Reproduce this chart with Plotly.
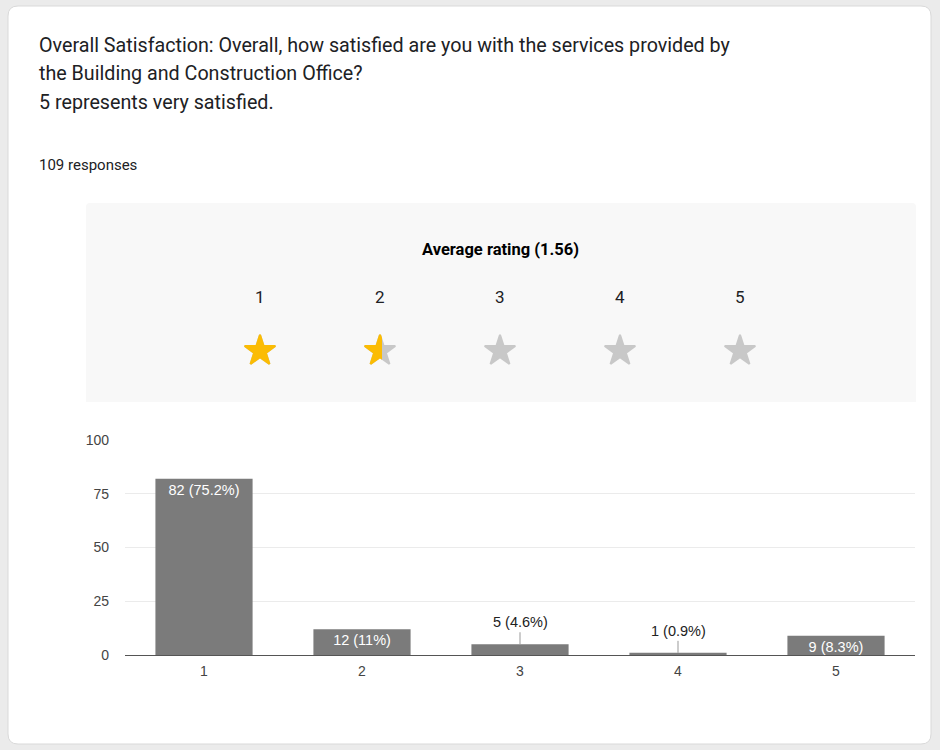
import plotly.graph_objects as go

# survey data
ratings = [1, 2, 3, 4, 5]
counts = [82, 12, 5, 1, 9]
average = 1.56
question = ["Overall Satisfaction: Overall, how satisfied are you with the services provided by",
            "the Building and Construction Office?",
            "5 represents very satisfied."]
y_ticks = [0, 25, 50, 75, 100]

W, H = 940, 750
total = sum(counts)


def px(x):
    return x / W


def py(y):
    return 1 - y / H


def pct(n):
    p = round(100 * n / total, 1)
    s = f"{p:.1f}".rstrip("0").rstrip(".")
    return f"{n} ({s}%)"


labels = [pct(c) for c in counts]
inside = [c >= 9 for c in counts]
chart_font = "Liberation Sans, Arial"

fig = go.Figure()

# bars
fig.add_trace(go.Bar(
    x=ratings, y=counts,
    text=[l if i else "" for l, i in zip(labels, inside)],
    textposition="inside", insidetextanchor="end", constraintext="none",
    textfont=dict(color="white", size=14.5, family=chart_font),
    marker=dict(color="#7b7b7b", line=dict(width=0)),
    width=0.615, cliponaxis=False, hoverinfo="skip",
))

# small bars get an outside label with a leader line
for r, c, l, i in zip(ratings, counts, labels, inside):
    if not i:
        fig.add_annotation(x=r, y=c, xref="x", yref="y", text=l, showarrow=True,
                           arrowhead=0, arrowwidth=1, arrowcolor="#999999",
                           ax=0, ay=-12, yanchor="bottom",
                           font=dict(size=14.5, color="#222222", family=chart_font))

# star rating: grey stars, full gold stars, partial gold star clipped by its own axis
star_size = 23
grey, gold = "#c8c8c8", "#fbbc04"
full = int(average)
frac = average - full
fig.add_trace(go.Scatter(
    x=ratings, y=[0] * len(ratings), xaxis="x2", yaxis="y2", mode="markers",
    marker=dict(symbol="star", size=star_size, color=grey, line=dict(width=2, color=grey)),
    hoverinfo="skip"))
fig.add_trace(go.Scatter(
    x=ratings[:full], y=[0] * full, xaxis="x2", yaxis="y2", mode="markers",
    marker=dict(symbol="star", size=star_size, color=gold, line=dict(width=2, color=gold)),
    hoverinfo="skip"))
fig.add_trace(go.Scatter(
    x=[ratings[full]], y=[0], xaxis="x3", yaxis="y3", mode="markers", cliponaxis=True,
    marker=dict(symbol="star", size=star_size, color=gold, line=dict(width=2, color=gold)),
    hoverinfo="skip"))

# star axes: rating k sits at 260 + 120*(k-1) px
star_dom = [px(200), px(800)]
half_left = 380 - 16
fig.update_layout(
    xaxis2=dict(domain=star_dom, range=[0.5, 5.5], visible=False, fixedrange=True),
    yaxis2=dict(domain=[py(376), py(326)], range=[-1, 1], visible=False, anchor="x2"),
    xaxis3=dict(domain=[px(half_left), px(half_left + 32 * frac)],
                range=[2 - 16 / 120, 2 - 16 / 120 + 32 * frac / 120], visible=False),
    yaxis3=dict(domain=[py(376), py(326)], range=[-1, 1], visible=False, anchor="x3"),
)

for r in ratings:
    fig.add_annotation(x=r, y=py(297), xref="x2", yref="paper", text=str(r), showarrow=False,
                       yanchor="middle",
                       font=dict(size=17, color="#202124", family="Roboto"))

fig.add_annotation(x=px(500), y=py(250), xref="paper", yref="paper",
                   text="<b>Average rating (%.2f)</b>" % average, showarrow=False,
                   xanchor="center", yanchor="middle",
                   font=dict(size=16.5, color="#000000", family="Roboto"))

# question text and response count
for i, line in enumerate(question):
    fig.add_annotation(x=px(37), y=py(45 + 28.5 * i), xref="paper", yref="paper", text=line,
                       showarrow=False, xanchor="left", yanchor="middle",
                       font=dict(size=19.7, color="#202124", family="Roboto"))
fig.add_annotation(x=px(37), y=py(165), xref="paper", yref="paper", text=f"{total} responses",
                   showarrow=False, xanchor="left", yanchor="middle",
                   font=dict(size=15, color="#202124", family="Roboto"))

# card and panel backgrounds
r = 10
x0, y0, x1, y1 = px(8), py(6), px(931), py(744)
rx, ry = px(r), r / H
card = (f"M {x0+rx},{y0} L {x1-rx},{y0} Q {x1},{y0} {x1},{y0-ry} L {x1},{y1+ry} "
        f"Q {x1},{y1} {x1-rx},{y1} L {x0+rx},{y1} Q {x0},{y1} {x0},{y1+ry} "
        f"L {x0},{y0-ry} Q {x0},{y0} {x0+rx},{y0} Z")
fig.add_shape(type="path", path=card, xref="paper", yref="paper", layer="below",
              fillcolor="white", line=dict(color="#d9d9d9", width=1))
r2 = 4
p0, q0, p1, q1 = px(86), py(203), px(916), py(402)
rx2, ry2 = px(r2), r2 / H
panel = (f"M {p0+rx2},{q0} L {p1-rx2},{q0} Q {p1},{q0} {p1},{q0-ry2} L {p1},{q1} "
         f"L {p0},{q1} L {p0},{q0-ry2} Q {p0},{q0} {p0+rx2},{q0} Z")
fig.add_shape(type="path", path=panel, xref="paper", yref="paper", layer="below",
              fillcolor="#f8f8f8", line=dict(width=0))

tick_font = dict(size=14, color="#444444", family=chart_font)
fig.update_layout(
    width=W, height=H, margin=dict(l=0, r=0, t=0, b=0, pad=0, autoexpand=False),
    paper_bgcolor="#ebebeb", plot_bgcolor="rgba(0,0,0,0)",
    showlegend=False, bargap=0.385,
    xaxis=dict(domain=[px(125), px(915)], range=[0.5, 5.5], tickvals=ratings,
               ticktext=[str(r) for r in ratings], showgrid=False, zeroline=False,
               showline=True, linecolor="#555555", linewidth=1, ticks="",
               ticklabelstandoff=3, tickfont=tick_font,
               fixedrange=True, automargin=False),
    yaxis=dict(domain=[py(655), py(440)], range=[0, 100], tickvals=y_ticks,
               showgrid=True, gridcolor="#ebebeb", gridwidth=1, zeroline=False,
               showline=False, ticks="", ticklabelstandoff=15, tickfont=tick_font,
               fixedrange=True, automargin=False),
    font=dict(family="Roboto"),
)

# page without the default body margin so the card sits flush in the window
fig.write_html("out.html", config={"displayModeBar": False},
               post_script="document.body.style.margin='0';"
                           "document.body.style.background='#ebebeb';")
